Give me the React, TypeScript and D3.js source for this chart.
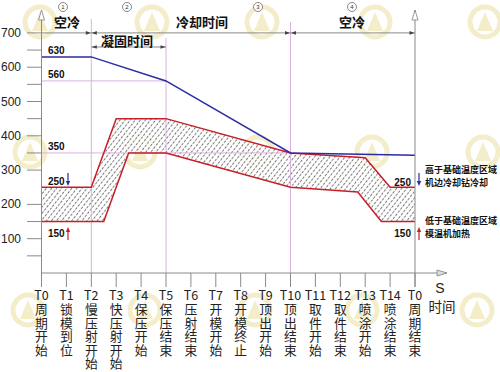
import React from "react";
import * as d3 from "d3";

// ---------- data ----------
const timeTicks = ["T0", "T1", "T2", "T3", "T4", "T5", "T6", "T7", "T8", "T9", "T10", "T11", "T12", "T13", "T14", "T0"];
const tickEvents = [
  "周期开始", "锁模到位", "慢压射开始", "快压射开始", "保压开始", "保压结束", "压射结束", "开模开始",
  "开模终止", "顶出开始", "顶出结束", "取件开始", "取件结束", "喷涂开始", "喷涂结束", "周期结束",
];
const yTickLabels = [100, 200, 300, 400, 500, 600, 700];
const yMinorTicks = [50, 150, 350, 450, 550, 650];

const blueTimes = [0, 2, 5, 10, 15];
const blueTemps = [630, 630, 560, 350, 343];
const upperTimes = [0, 2, 3, 5, 10, 13, 14, 15];
const upperTemps = [250, 250, 450, 450, 350, 336, 250, 250];
const lowerTimes = [0, 2.5, 3.5, 5, 10, 12.7, 13.65, 15];
const lowerTemps = [150, 150, 350, 350, 250, 236, 150, 150];

const phaseNames = ["空冷", "凝固时间", "冷却时间", "空冷"];
const phaseNumbers = ["1", "2", "3", "4"];
const markerTimes = [2, 5, 10]; // pink vertical guides
const guideTemps = [560, 350];
const leftValueLabels = ["630", "560", "350", "250", "150"];
const leftValueTemps = [630, 560, 350, 250, 150];
const highNote = ["高于基础温度区域", "机边冷却钻冷却"];
const lowNote = ["低于基础温度区域", "模温机加热"];
const axisUnit = ["S", "时间"];

// ---------- layout ----------
const W = 500;
const H = 372;
const x = d3.scaleLinear().domain([0, 15]).range([41.5, 415]);
const y = d3.scaleLinear().domain([0, 700]).range([273, 32.9]);

const GRAY = "#8a8a8a";
const PINK = "#dcb0e4";
const BLUE = "#2b2ba6";
const RED = "#c81e28";
const TEXT = "#222";
const SANS = "'Liberation Sans', Arial, sans-serif";
const CJK = "'Noto Sans CJK SC', 'Noto Sans', sans-serif";

const pts = (ts: number[], vs: number[]) => ts.map((t, i) => [t, vs[i]] as [number, number]);
const lineGen = d3.line<[number, number]>().x((d) => x(d[0])).y((d) => y(d[1]));

function Watermark() {
  const rows = [
    { ring: 22, xs: [40, 152, 262, 375, 485] },
    { ring: 152, xs: [30, 140, 258, 372, 483] },
    { ring: 310, xs: [28, 145, 255, 362, 477] },
  ];
  const c = "#eee2a8";
  return (
    <g opacity={0.6}>
      {rows.map((r, ri) =>
        r.xs.map((cx, i) => (
          <g key={`${ri}-${i}`}>
            <circle cx={cx} cy={r.ring} r={15} fill="none" stroke={c} strokeWidth={5} />
            <path d={`M${cx - 8},${r.ring + 9} L${cx},${r.ring - 10} L${cx + 8},${r.ring + 9} Z`} fill={c} />
          </g>
        ))
      )}
    </g>
  );
}

function Arrow({ x0, y0, dir, color, len = 5, half = 1.8 }: { x0: number; y0: number; dir: "l" | "r" | "u" | "d"; color: string; len?: number; half?: number }) {
  let p = "";
  if (dir === "r") p = `M${x0},${y0} L${x0 - len},${y0 - half} L${x0 - len},${y0 + half} Z`;
  if (dir === "l") p = `M${x0},${y0} L${x0 + len},${y0 - half} L${x0 + len},${y0 + half} Z`;
  if (dir === "d") p = `M${x0},${y0} L${x0 - half},${y0 - len} L${x0 + half},${y0 - len} Z`;
  if (dir === "u") p = `M${x0},${y0} L${x0 - half},${y0 + len} L${x0 + half},${y0 + len} Z`;
  return <path d={p} fill={color} />;
}

export default function App() {
  const upper = pts(upperTimes, upperTemps);
  const lower = pts(lowerTimes, lowerTemps);
  const blue = pts(blueTimes, blueTemps);
  const bandPath = (lineGen([...upper, ...lower.slice().reverse()]) || "") + "Z";

  const x0 = x(0);
  const xEnd = x(15);
  const y0 = y(0);
  const dimY1 = y(700);
  const dimY2 = 47;

  const phaseCenterX = [67, 127, 202, 352];
  const numberX = [63, 127, 258, 352];

  return (
    <svg width={W} height={H} style={{ position: "absolute", left: 0, top: 0, background: "#fff" }}>
      <defs>
        <pattern id="hatch" width={4} height={4} patternUnits="userSpaceOnUse" patternTransform="rotate(38)">
          <rect width={4} height={4} fill="#fff" />
          <line x1={0.5} y1={0} x2={0.5} y2={4} stroke="#444" strokeWidth={0.85} strokeDasharray="2.6 1.4" />
        </pattern>
      </defs>

      <Watermark />

      {/* hatched band */}
      <path d={bandPath} fill="url(#hatch)" fillOpacity={0.85} />

      {/* pink guides */}
      {markerTimes.map((t, i) => (
        <line key={`v${i}`} x1={x(t)} x2={x(t)} y1={[19, 38, 22][i]} y2={y0} stroke={PINK} strokeWidth={1} />
      ))}
      {guideTemps.map((v, i) => (
        <line key={`h${i}`} x1={x0} x2={x(markerTimes[i + 1])} y1={y(v)} y2={y(v)} stroke={PINK} strokeWidth={1} />
      ))}

      {/* band outlines */}
      <path d={lineGen(upper) || ""} fill="none" stroke={RED} strokeWidth={1.5} />
      <path d={lineGen(lower) || ""} fill="none" stroke={RED} strokeWidth={1.5} />
      {/* blue line */}
      <path d={lineGen(blue) || ""} fill="none" stroke={BLUE} strokeWidth={1.5} />

      {/* y axis */}
      <line x1={x0} x2={x0} y1={10} y2={y0} stroke={GRAY} strokeWidth={1} />
      <path d={`M${x0},10 L${x0 - 3},20 L${x0 + 3},20 Z`} fill="#fff" stroke={GRAY} strokeWidth={0.9} />
      {[...yTickLabels, ...yMinorTicks].map((v) => (
        <line key={`yt${v}`} x1={27} x2={x0} y1={y(v)} y2={y(v)} stroke={GRAY} strokeWidth={1} />
      ))}
      {yTickLabels.map((v) => (
        <text key={`yl${v}`} x={21} y={y(v)} textAnchor="end" dominantBaseline="central" fontFamily={SANS} fontSize={12} fill={TEXT}>
          {v}
        </text>
      ))}

      {/* right axis */}
      <line x1={xEnd} x2={xEnd} y1={10} y2={287} stroke={GRAY} strokeWidth={1} />
      <path d={`M${xEnd},10 L${xEnd - 3},20 L${xEnd + 3},20 Z`} fill="#fff" stroke={GRAY} strokeWidth={0.9} />

      {/* x axis */}
      <line x1={x0} x2={447} y1={y0} y2={y0} stroke={GRAY} strokeWidth={1} />
      <path d={`M447,${y0} L437,${y0 - 3} L437,${y0 + 3} Z`} fill="#ddd" stroke={GRAY} strokeWidth={0.9} />
      {timeTicks.map((lab, i) => (
        <g key={`xt${i}`}>
          <line x1={x(i)} x2={x(i)} y1={y0} y2={287} stroke={GRAY} strokeWidth={1} />
          <text textAnchor="middle" fontFamily={CJK} fontSize={12.8} fill={TEXT}>
            <tspan x={x(i)} y={294.5} dominantBaseline="central" fontSize={12.5}>
              {lab}
            </tspan>
            {Array.from(tickEvents[i]).map((ch, j) => (
              <tspan key={j} x={x(i)} y={308.5 + j * 13.5} dominantBaseline="central">
                {ch}
              </tspan>
            ))}
          </text>
        </g>
      ))}
      <text x={440} y={288} textAnchor="middle" dominantBaseline="central" fontFamily={SANS} fontSize={14} fill={TEXT}>
        {axisUnit[0]}
      </text>
      <text x={442} y={306} textAnchor="middle" dominantBaseline="central" fontFamily={CJK} fontSize={13.5} fill={TEXT}>
        {axisUnit[1]}
      </text>

      {/* dimension lines */}
      <line x1={x0} x2={xEnd} y1={dimY1} y2={dimY1} stroke={GRAY} strokeWidth={1} />
      <line x1={x(2)} x2={x(5)} y1={dimY2} y2={dimY2} stroke={GRAY} strokeWidth={1} />
      {[2, 10].map((t) => (
        <g key={`da${t}`}>
          <Arrow x0={x(t) - 0.5} y0={dimY1} dir="r" color="#444" />
          <Arrow x0={x(t) + 0.5} y0={dimY1} dir="l" color="#444" />
        </g>
      ))}
      <Arrow x0={xEnd - 0.5} y0={dimY1} dir="r" color="#444" />
      <Arrow x0={x(2) + 0.5} y0={dimY2} dir="l" color="#444" />
      <Arrow x0={x(5) - 0.5} y0={dimY2} dir="r" color="#444" />

      {/* phase titles */}
      {phaseNames.map((name, i) => (
        <text key={`pn${i}`} x={phaseCenterX[i]} y={i === 1 ? 40 : 21} textAnchor="middle" dominantBaseline="central" fontFamily={CJK} fontWeight="bold" fontSize={13} fill="#111">
          {name}
        </text>
      ))}
      {phaseNumbers.map((n, i) => (
        <g key={`pc${i}`}>
          <circle cx={numberX[i]} cy={7} r={4.5} fill="#fff" stroke="#555" strokeWidth={0.7} />
          <text x={numberX[i]} y={7.3} textAnchor="middle" dominantBaseline="central" fontFamily={SANS} fontSize={6} fill="#333">
            {n}
          </text>
        </g>
      ))}

      {/* left value labels */}
      {leftValueLabels.map((lab, i) => {
        const v = leftValueTemps[i];
        const below = v === 150;
        const ly = below ? y(v) + 12 : y(v) - 6;
        return (
          <text key={`lv${i}`} x={48} y={ly} dominantBaseline="central" fontFamily={SANS} fontWeight="bold" fontSize={10} fill="#111">
            {lab}
          </text>
        );
      })}
      <line x1={68} x2={68} y1={173} y2={182} stroke={BLUE} strokeWidth={1.2} />
      <Arrow x0={68} y0={186} dir="d" color={BLUE} len={5} half={2.2} />
      <line x1={68} x2={68} y1={240} y2={231} stroke={RED} strokeWidth={1.2} />
      <Arrow x0={68} y0={227} dir="u" color={RED} len={5} half={2.2} />

      {/* right value labels */}
      <text x={411} y={y(250) - 5} textAnchor="end" dominantBaseline="central" fontFamily={SANS} fontWeight="bold" fontSize={10} fill="#111">
        {leftValueLabels[3]}
      </text>
      <text x={411} y={y(150) + 12} textAnchor="end" dominantBaseline="central" fontFamily={SANS} fontWeight="bold" fontSize={10} fill="#111">
        {leftValueLabels[4]}
      </text>
      <line x1={419} x2={419} y1={173} y2={182} stroke={BLUE} strokeWidth={1.2} />
      <Arrow x0={419} y0={186} dir="d" color={BLUE} len={5} half={2.2} />
      <line x1={419} x2={419} y1={240} y2={231} stroke={RED} strokeWidth={1.2} />
      <Arrow x0={419} y0={227} dir="u" color={RED} len={5} half={2.2} />
      {highNote.map((t, i) => (
        <text key={`hn${i}`} x={425} y={169 + i * 13.5} dominantBaseline="central" fontFamily={CJK} fontWeight="bold" fontSize={9} fill="#111">
          {t}
        </text>
      ))}
      {lowNote.map((t, i) => (
        <text key={`ln${i}`} x={425} y={220 + i * 13.5} dominantBaseline="central" fontFamily={CJK} fontWeight="bold" fontSize={9} fill="#111">
          {t}
        </text>
      ))}
    </svg>
  );
}
